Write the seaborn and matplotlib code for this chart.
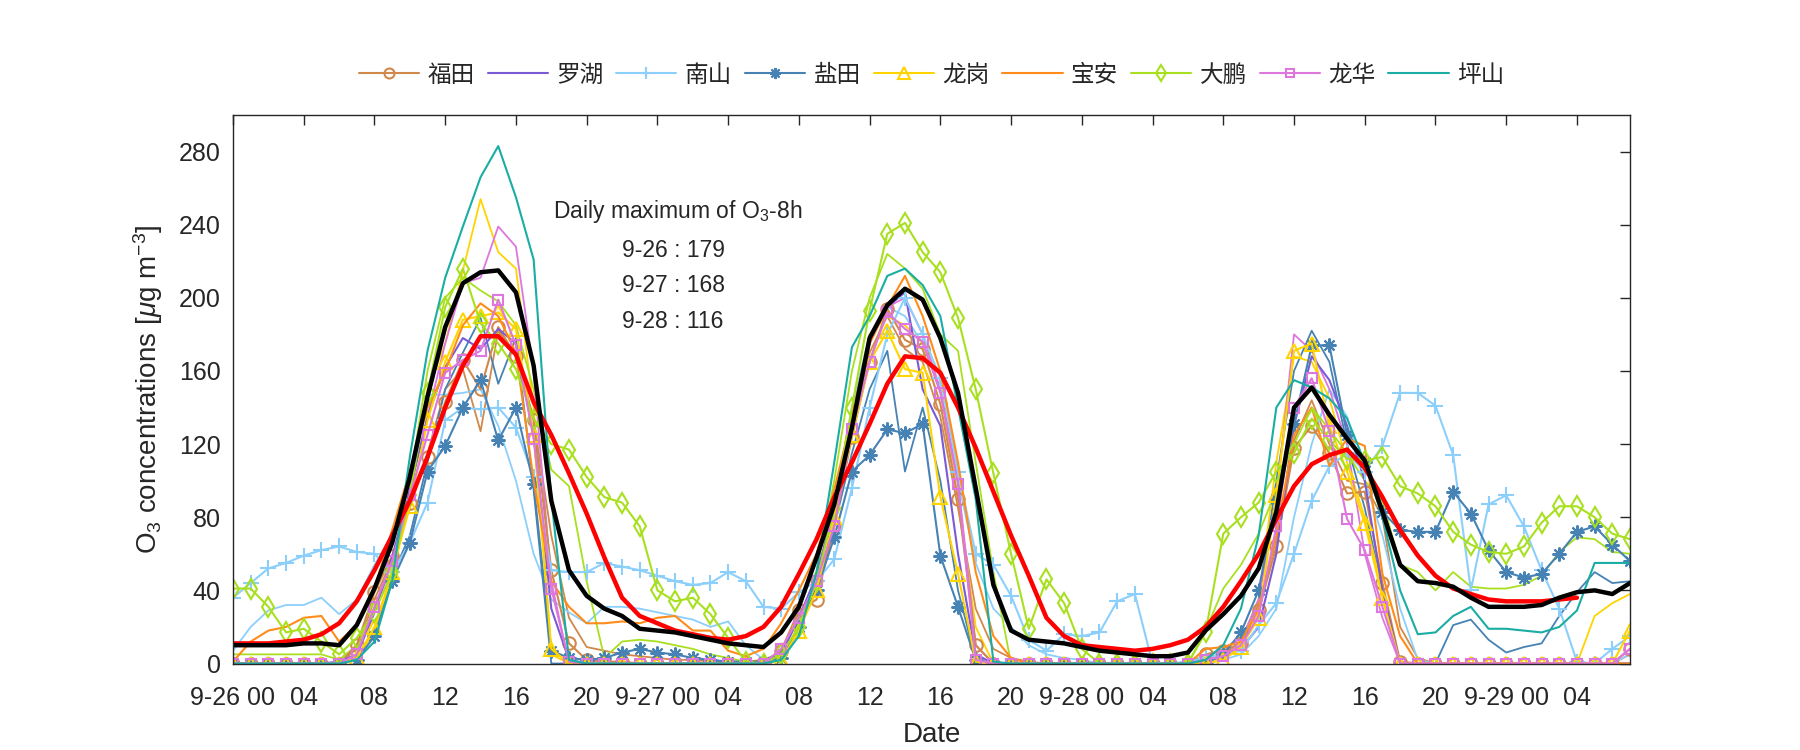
import numpy as np
import pandas as pd
import matplotlib
matplotlib.use('Agg')
import matplotlib.pyplot as plt
import seaborn as sns

# hourly O3, 9-26 00 .. 9-29 07
hours = np.arange(80)
days = ['9-26', '9-27', '9-28', '9-29']

stations = ['福田', '罗湖', '南山', '盐田', '龙岗', '宝安', '大鹏', '龙华', '坪山']
colors = ['#D0894A', '#7A5BD6', '#8CCFFB', '#4682B4', '#FFD400',
          '#FF8C1A', '#A8E01F', '#DD77DD', '#1AADA4']

futian = [0, 0, 0, 0, 0, 0, 0, 10, 39, 59, 88, 113, 143, 166, 150, 184, 168, 133, 51, 11, 2, 1, 1, 0,
          0, 0, 0, 0, 0, 0, 0, 7, 29, 35, 75, 124, 165, 194, 177, 172, 142, 90, 10, 0, 0, 0, 0, 0,
          0, 0, 0, 0, 0, 0, 0, 5, 7, 11, 29, 64, 118, 130, 115, 93, 94, 44, 1, 0, 0, 0, 0, 0,
          0, 0, 0, 0, 0, 0, 0, 8]
luohu = [0, 0, 0, 0, 0, 0, 1, 5, 28, 58, 95, 135, 162, 178, 172, 183, 175, 125, 30, 2, 0, 0, 0, 0,
         0, 0, 0, 0, 0, 0, 1, 5, 25, 48, 85, 135, 178, 195, 203, 150, 130, 60, 5, 0, 0, 0, 0, 0,
         0, 0, 0, 0, 0, 0, 0, 2, 5, 8, 20, 60, 130, 168, 155, 130, 100, 40, 0, 0, 0, 0, 0, 0,
         0, 0, 0, 0, 0, 0, 0, 0]
nanshan = [36, 44, 52, 55, 59, 62, 64, 61, 60, 50, 66, 88, 133, 140, 139, 140, 129, 102, 51, 50, 50, 55, 53, 51,
           48, 45, 43, 44, 50, 45, 31, 30, 39, 45, 57, 96, 140, 180, 200, 180, 156, 105, 60, 54, 37, 13, 7, 16,
           15, 17, 34, 38, 0, 0, 1, 3, 5, 7, 21, 33, 60, 89, 108, 115, 105, 119, 148, 148, 141, 114, 40, 87,
           92, 75, 51, 30, 1, 0, 8, 15]
yantian = [0, 0, 0, 0, 0, 0, 0, 2, 15, 45, 66, 105, 119, 140, 155, 122, 140, 98, 7, 3, 2, 3, 6, 8,
           6, 5, 3, 2, 1, 1, 1, 3, 20, 40, 69, 105, 114, 128, 126, 131, 59, 31, 2, 0, 0, 0, 0, 0,
           0, 0, 0, 0, 0, 0, 0, 0, 5, 17, 40, 90, 131, 174, 174, 125, 110, 83, 73, 72, 72, 94, 82, 62,
           50, 47, 49, 60, 72, 75, 65, 56]
longgang = [0, 0, 0, 0, 0, 0, 0, 3, 20, 50, 86, 133, 165, 188, 190, 192, 183, 125, 8, 0, 0, 0, 0, 0,
            0, 0, 0, 0, 0, 0, 0, 2, 18, 40, 80, 125, 165, 182, 161, 159, 91, 49, 1, 0, 0, 0, 0, 0,
            0, 0, 0, 0, 0, 0, 0, 0, 2, 9, 25, 92, 171, 175, 130, 105, 77, 36, 0, 0, 0, 0, 0, 0,
            0, 0, 0, 0, 0, 0, 0, 18]
baoan = [1, 12, 18, 20, 25, 26, 12, 21, 41, 73, 105, 140, 160, 185, 197, 190, 170, 100, 45, 31, 22, 22, 23, 22,
         25, 26, 18, 18, 7, 4, 8, 22, 40, 60, 95, 135, 175, 195, 212, 190, 160, 110, 50, 15, 3, 0, 0, 0,
         0, 0, 0, 0, 0, 0, 0, 8, 9, 12, 30, 70, 125, 140, 108, 123, 119, 49, 15, 0, 0, 0, 0, 0,
         0, 0, 0, 0, 0, 0, 0, 0]
dapeng = [41, 41, 31, 17, 19, 12, 5, 14, 28, 50, 92, 148, 195, 216, 186, 175, 161, 134, 120, 117, 102, 91, 88, 75,
          40, 34, 36, 27, 14, 1, 0, 5, 20, 45, 85, 140, 193, 235, 241, 225, 214, 189, 150, 104, 60, 19, 46, 33,
          8, 0, 0, 0, 0, 0, 0, 17, 71, 80, 88, 105, 115, 134, 122, 112, 111, 113, 97, 93, 86, 72, 65, 61,
          60, 64, 77, 86, 86, 80, 71, 68]
longhua = [0, 0, 0, 0, 0, 0, 0, 5, 31, 56, 92, 125, 159, 166, 171, 199, 174, 123, 41, 1, 0, 0, 0, 0,
           0, 0, 0, 0, 0, 0, 0, 8, 25, 45, 75, 128, 165, 192, 183, 176, 148, 98, 2, 0, 0, 0, 0, 0,
           0, 0, 0, 0, 0, 0, 0, 2, 4, 10, 26, 75, 140, 156, 127, 79, 62, 31, 0, 0, 0, 0, 0, 0,
           0, 0, 0, 0, 0, 0, 0, 8]
pingshan = [0, 0, 0, 0, 0, 0, 0, 2, 12, 45, 113, 171, 211, 239, 266, 283, 255, 221, 90, 2, 0, 0, 0, 0,
            0, 0, 0, 0, 0, 0, 0, 2, 15, 50, 110, 173, 190, 212, 216, 207, 190, 140, 90, 1, 0, 0, 0, 0,
            0, 0, 0, 0, 0, 0, 0, 2, 10, 30, 70, 140, 155, 151, 145, 134, 110, 80, 40, 16, 17, 26, 31, 19,
            19, 18, 17, 20, 29, 55, 55, 55]

# second set of the same stations, drawn without markers and not in the legend
futian_b = [0, 0, 0, 0, 0, 0, 0, 8, 35, 57, 85, 115, 150, 161, 127, 182, 169, 134, 70, 25, 9, 7, 5, 4,
            3, 2, 2, 1, 1, 1, 2, 6, 27, 38, 78, 128, 170, 190, 172, 165, 135, 85, 30, 8, 3, 1, 0, 0,
            0, 0, 0, 0, 0, 0, 0, 3, 8, 14, 32, 68, 122, 144, 120, 100, 98, 80, 20, 3, 0, 0, 0, 0,
            0, 0, 0, 0, 0, 0, 0, 5]
nanshan_b = [7, 20, 29, 32, 32, 36, 27, 35, 54, 70, 100, 147, 147, 148, 150, 130, 100, 60, 35, 28, 22, 31, 31, 30,
             28, 26, 24, 20, 23, 10, 2, 5, 25, 45, 85, 140, 180, 195, 190, 175, 150, 100, 55, 30, 20, 10, 5, 3,
             2, 0, 0, 0, 0, 0, 0, 0, 2, 5, 15, 30, 80, 120, 150, 135, 100, 70, 30, 2, 0, 0, 0, 0,
             0, 0, 0, 0, 0, 0, 0, 5]
yantian_b = [0, 0, 0, 0, 0, 0, 0, 3, 18, 48, 70, 110, 150, 170, 189, 153, 178, 95, 0, 0, 0, 0, 0, 0,
             0, 0, 0, 0, 0, 0, 0, 2, 18, 42, 75, 115, 150, 171, 105, 140, 100, 40, 2, 0, 0, 0, 0, 0,
             0, 0, 0, 0, 0, 0, 0, 0, 3, 12, 35, 100, 160, 182, 165, 120, 85, 40, 0, 0, 0, 21, 24, 13,
             6, 9, 11, 26, 39, 50, 44, 45]
longgang_b = [0, 0, 0, 0, 0, 0, 0, 2, 18, 48, 90, 150, 175, 215, 254, 225, 216, 140, 5, 0, 0, 0, 0, 0,
              0, 0, 0, 0, 0, 0, 0, 3, 20, 45, 85, 135, 180, 190, 185, 175, 150, 90, 20, 0, 0, 0, 0, 0,
              0, 0, 0, 0, 0, 0, 0, 0, 3, 12, 35, 110, 168, 165, 145, 110, 80, 40, 0, 0, 0, 0, 0, 0,
              0, 0, 0, 0, 0, 26, 33, 38]
dapeng_b = [5, 5, 5, 5, 5, 5, 2, 10, 30, 55, 100, 160, 200, 211, 204, 198, 185, 150, 106, 97, 45, 3, 12, 13,
            12, 10, 8, 5, 3, 1, 0, 3, 20, 50, 100, 160, 200, 224, 216, 205, 180, 171, 110, 50, 0, 0, 0, 0,
            0, 0, 0, 0, 0, 0, 0, 18, 41, 54, 71, 95, 120, 140, 128, 115, 100, 89, 54, 50, 40, 50, 42, 41,
            41, 43, 48, 61, 69, 68, 61, 60]
longhua_b = [0, 0, 0, 0, 0, 0, 0, 4, 28, 55, 95, 135, 175, 208, 211, 239, 228, 160, 45, 0, 0, 0, 0, 0,
             0, 0, 0, 0, 0, 0, 0, 6, 25, 48, 85, 130, 175, 195, 200, 180, 150, 100, 10, 0, 0, 0, 0, 0,
             0, 0, 0, 0, 0, 0, 0, 2, 5, 12, 35, 90, 180, 171, 150, 120, 60, 25, 0, 0, 0, 0, 0, 0,
             0, 0, 0, 0, 0, 0, 0, 0]

mean_o3 = [10, 10, 10, 10, 11, 11, 10, 21, 41, 66, 102, 146, 184, 208, 214, 215, 203, 163, 89, 51, 37, 30, 26, 19,
           18, 17, 15, 13, 11, 10, 9, 17, 31, 58, 87, 129, 178, 196, 205, 199, 178, 148, 96, 43, 18, 13, 12, 11,
           9, 7, 6, 5, 4, 4, 6, 18, 27, 37, 52, 83, 140, 151, 136, 123, 111, 83, 54, 45, 44, 42, 36, 31,
           31, 31, 32, 36, 39, 40, 38, 44]
# 8h running mean, ends at 9-29 04
o3_8h = [11, 11, 11, 12, 13, 16, 22, 34, 51, 70, 89, 113, 140, 163, 179, 179, 169, 143, 125, 104, 82, 58, 36, 26,
         22, 18, 16, 14, 13, 15, 20, 31, 49, 68, 91, 110, 131, 153, 168, 167, 159, 140, 118, 94, 70, 48, 25, 15,
         10, 9, 8, 7, 8, 10, 13, 20, 31, 45, 60, 79, 97, 109, 114, 117, 107, 91, 73, 59, 48, 41, 38, 35,
         34, 34, 34, 35, 36]

daily_max = ['9-26 : 179', '9-27 : 168', '9-28 : 116']

set_a = [futian, luohu, nanshan, yantian, longgang, baoan, dapeng, longhua, pingshan]
markers = ['o', None, '+', (8, 2, 0), '^', None, 'd', 's', None]
msizes = [9, 0, 11, 10, 10, 0, 10, 7, 0]
set_b = {0: futian_b, 2: nanshan_b, 3: yantian_b, 4: longgang_b, 6: dapeng_b, 7: longhua_b}

# fonts
sns.set_style('white')
plt.rcParams['font.family'] = ['Liberation Sans', 'Noto Sans CJK SC', 'DejaVu Sans']
plt.rcParams['mathtext.fontset'] = 'custom'
plt.rcParams['mathtext.rm'] = 'Liberation Sans'
plt.rcParams['mathtext.it'] = 'Liberation Sans:italic'
plt.rcParams['axes.unicode_minus'] = False
ink = '#262626'

fig = plt.figure(figsize=(18, 7.5), dpi=100)
ax = fig.add_axes([233 / 1800, 1 - 663.5 / 750, 1397 / 1800, 548.5 / 750])

for i, name in enumerate(stations):
    if i in set_b:
        sns.lineplot(x=hours, y=set_b[i], ax=ax, color=colors[i], lw=1.3, legend=False)

handles = []
for i, name in enumerate(stations):
    m = markers[i]
    kw = dict(color=colors[i], lw=1.5, legend=False)
    if m is not None:
        kw.update(marker=m, ms=msizes[i], mec=colors[i], mew=1.5,
                  mfc=colors[i] if m == '+' else 'none')
    sns.lineplot(x=hours, y=set_a[i], ax=ax, **kw)
    ln = ax.get_lines()[-1]
    ln.set_label(name)
    handles.append(ln)

sns.lineplot(x=hours[:len(o3_8h)], y=o3_8h, ax=ax, color='red', lw=3.2, legend=False)
sns.lineplot(x=hours, y=mean_o3, ax=ax, color='black', lw=3.2, legend=False)

ax.set_xlim(0, 79)
ax.set_ylim(0, 300)
ticks = np.arange(0, 80, 4)
labels = [f'{days[t // 24]} 00' if t % 24 == 0 else f'{t % 24:02d}' for t in ticks]
ax.set_xticks(ticks)
ax.set_xticklabels(labels)
ax.set_yticks(np.arange(0, 281, 40))
ax.tick_params(direction='in', top=True, right=True, length=7, width=1,
               labelsize=18, colors=ink)
ax.tick_params(axis='x', pad=16)
ax.tick_params(axis='y', pad=9)
for sp in ax.spines.values():
    sp.set_visible(True)
    sp.set_color(ink)
    sp.set_linewidth(1)

ax.set_xlabel('Date', fontsize=20, color=ink, labelpad=9)
ax.set_ylabel('O$_3$ concentrations [$\\mathit{\\mu}$g m$^{-3}$]', fontsize=20,
              color=ink, labelpad=10)

ax.text(18.1, 247, 'Daily maximum of O$_3$-8h', fontsize=16.5, ha='left', va='center')
for k, s in enumerate(daily_max):
    ax.text(22.0, 226 - 19.5 * k, s, fontsize=16.5, ha='left', va='center')

ax.legend(handles=handles, loc='center', bbox_to_anchor=(0.5, 1.072), ncol=9,
          frameon=False, fontsize=17, handlelength=2.55, handletextpad=0.35,
          columnspacing=0.55, borderaxespad=0, markerscale=0.8)

fig.savefig('out.png', dpi=100)
